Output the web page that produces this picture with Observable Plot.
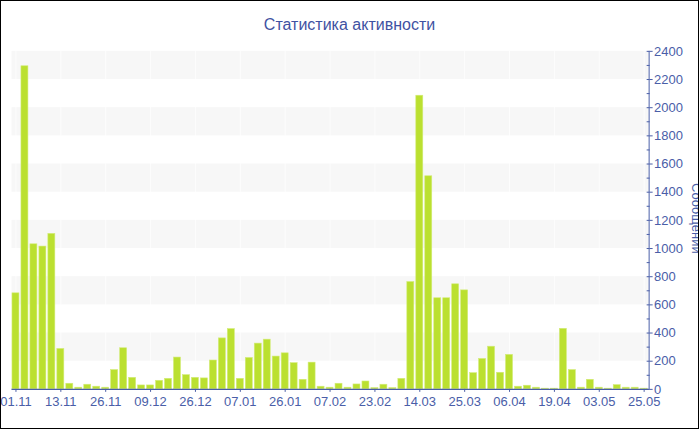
<!DOCTYPE html>
<html>
<head>
<meta charset="utf-8">
<script src="https://cdn.jsdelivr.net/npm/d3@7"></script>
<script src="https://cdn.jsdelivr.net/npm/@observablehq/plot@0.6"></script>
<style>
  html, body { margin: 0; padding: 0; background: #fff; }
  #box { position: relative; width: 699px; height: 429px; border: 1px solid #000; box-sizing: border-box; overflow: hidden; background: #fff; }
  #title { position: absolute; left: 0; right: 0; top: 15px; text-align: center; font: 16px "Liberation Sans", sans-serif; color: #3f52a2; }
  #chart { position: absolute; left: -1px; top: -1px; }
</style>
</head>
<body>
<div id="box">
  <div id="title">Статистика активности</div>
  <div id="chart"></div>
</div>
<script>
const titleText = "Статистика активности";
const yLabel = "Сообщений";
const values = [682, 2294, 1030, 1014, 1104, 287, 40, 12, 33, 19, 12, 137, 292, 82, 28, 28, 61, 75, 226, 101, 82, 78, 205, 362, 428,
  75, 223, 325, 353, 233, 256, 186, 68, 190, 19, 12, 40, 12, 35, 56, 9, 33, 9, 75, 762, 2085, 1513, 647, 647, 746,
  703, 115, 216, 303, 118, 245, 19, 26, 12, 5, 5, 430, 137, 12, 68, 12, 5, 30, 12, 12, 5];
const tickLabels = ["01.11", "13.11", "26.11", "09.12", "26.12", "07.01", "26.01", "07.02", "23.02", "14.03", "25.03", "06.04", "19.04", "03.05", "25.05"];
const tickIndex = tickLabels.map((_, k) => k * 5);
const yTicks = d3.range(0, 2401, 200);
const yMinor = d3.range(100, 2400, 200);
const bands = d3.range(200, 2400, 400).map(v => ({y1: v, y2: v + 200}));

const bars = values.map((v, i) => ({i, v}));
const axisColor = "#4a5ea8";

const chart = Plot.plot({
  width: 700,
  height: 430,
  marginTop: 51,
  marginBottom: 40,
  marginLeft: 11.5,
  marginRight: 49.5,
  style: {fontFamily: "Liberation Sans, sans-serif", fontSize: "13px", color: axisColor, background: "transparent", overflow: "visible"},
  x: {domain: d3.range(values.length), paddingInner: 0.22, paddingOuter: 0.11},
  y: {domain: [0, 2400]},
  marks: [
    Plot.rect(bands, {y1: "y1", y2: "y2", fill: "#f7f7f7"}),
    Plot.gridX(tickIndex, {stroke: "#ffffff", strokeOpacity: 0.7}),
    Plot.barY(bars, {x: "i", y: "v", fill: "#bbe030", stroke: "#d3ec78", strokeWidth: 0.6}),
    Plot.ruleY([0], {stroke: axisColor, strokeWidth: 1.2}),
    Plot.axisX({ticks: tickIndex, tickFormat: i => tickLabels[i / 5], tickSize: 3, tickPadding: 4, label: null, fontSize: 13}),
    Plot.axisY({anchor: "right", ticks: yTicks, tickFormat: d => String(d), tickSize: 3, tickPadding: 2, label: null, fontSize: 13}),
    Plot.axisY({anchor: "right", ticks: yTicks, tickFormat: () => "", tickSize: -3, label: null}),
    Plot.axisY({anchor: "right", ticks: yMinor, tickFormat: () => "", tickSize: -3, label: null}),
    Plot.frame({anchor: "right", stroke: axisColor}),
    Plot.text([yLabel], {frameAnchor: "right", textAnchor: "middle", dx: 47, dy: -2, rotate: 90, fontSize: 13, fill: axisColor})
  ]
});
document.getElementById("chart").appendChild(chart);
</script>
</body>
</html>
